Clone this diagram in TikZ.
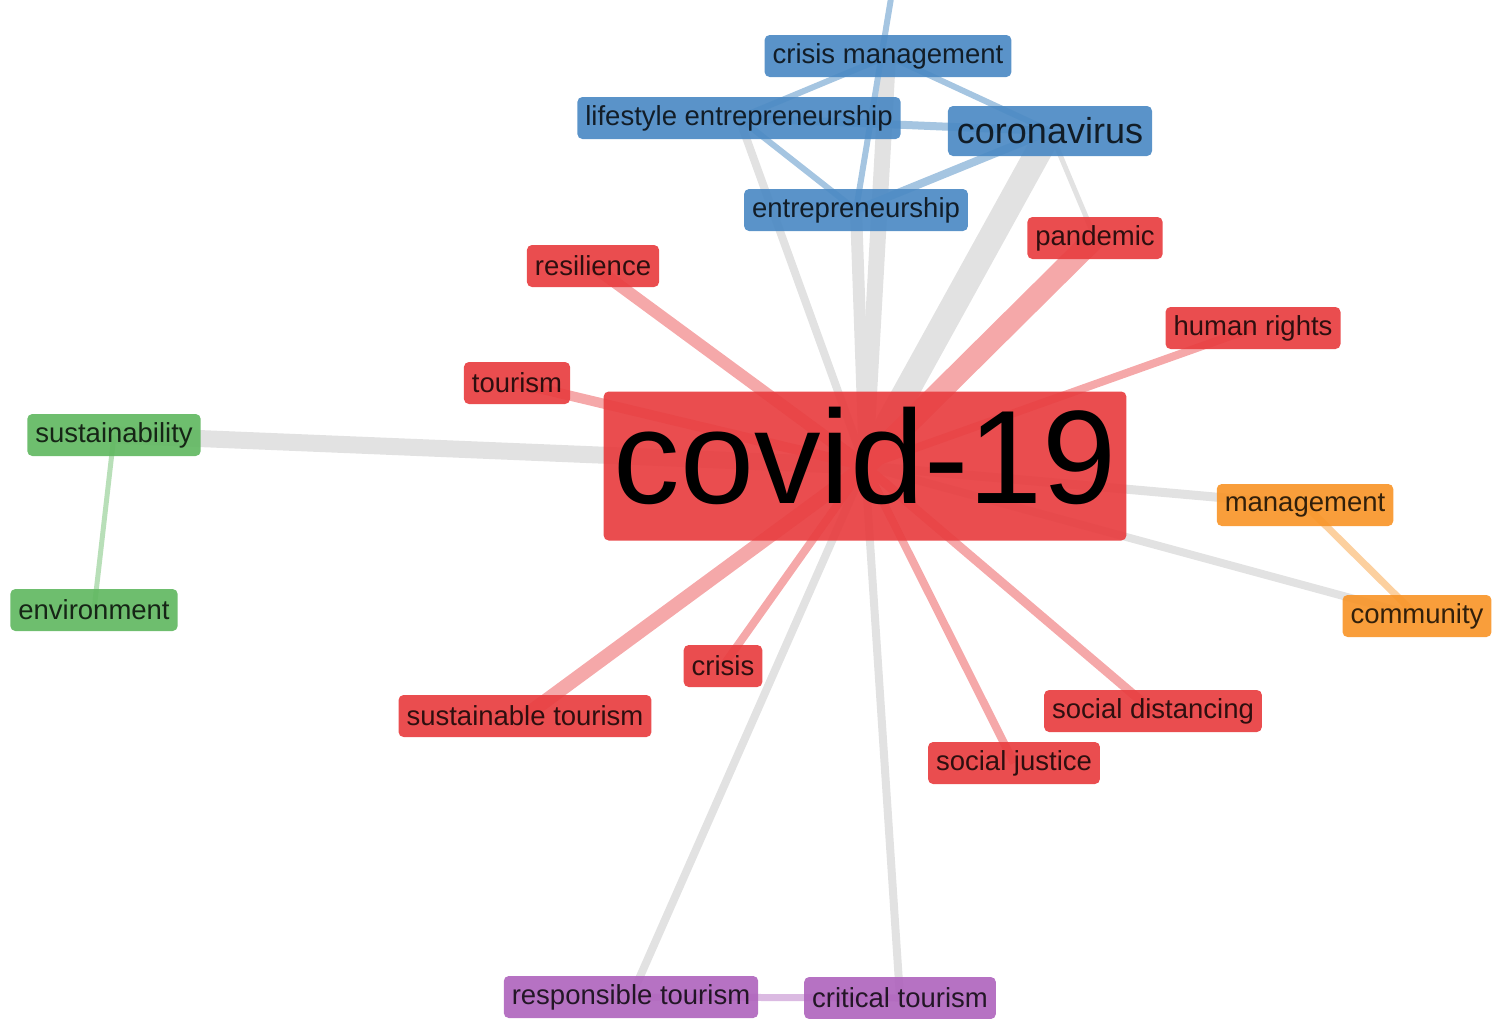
\documentclass[tikz,border=0pt]{standalone}
\usepackage{fontspec}
\setmainfont{Liberation Sans}
\definecolor{kwred}{RGB}{232,62,64}
\definecolor{kwblue}{RGB}{76,138,196}
\definecolor{kwgreen}{RGB}{98,184,98}
\definecolor{kworange}{RGB}{248,150,42}
\definecolor{kwpurple}{RGB}{176,102,190}
\definecolor{kwgray}{RGB}{226,226,226}
\usetikzlibrary{backgrounds}

\begin{document}
\begin{tikzpicture}[x=1pt, y=-1pt,
  term/.style={rectangle, rounded corners=5pt, fill opacity=0.92,
               text=black, text opacity=0.8, inner xsep=8pt,
               minimum height=42pt, font=\fontsize{27.5}{28}\selectfont},
  graylink/.style={draw=kwgray},
  redlink/.style={draw=kwred!45},
  bluelink/.style={draw=kwblue!50},
  greenlink/.style={draw=kwgreen!45},
  orangelink/.style={draw=kworange!45},
  purplelink/.style={draw=kwpurple!45}
]
\useasboundingbox (0,0) rectangle (1493,1018);

% blue cluster
\node[term, fill=kwblue] (crisismgmt) at (888,56) {crisis management};
\node[term, fill=kwblue] (lifestyle) at (739,118) {lifestyle entrepreneurship};
\node[term, fill=kwblue, minimum height=50pt, inner xsep=9pt,
      font=\fontsize{36}{36}\selectfont] (coronavirus) at (1050,131) {coronavirus};
\node[term, fill=kwblue] (entrepreneurship) at (856,210) {entrepreneurship};
\coordinate (offtop) at (894,-20);

% red cluster
\node[term, fill=kwred] (pandemic) at (1095,238) {pandemic};
\node[term, fill=kwred] (resilience) at (593,266) {resilience};
\node[term, fill=kwred] (humanrights) at (1253,328) {human rights};
\node[term, fill=kwred] (tourism) at (517,383) {tourism};
\node[term, fill=kwred, minimum height=149pt, inner xsep=10pt,
      text opacity=1, text depth=22pt,
      font=\fontsize{133}{133}\selectfont] (covid) at (865,466) {covid-19};
\node[term, fill=kwred] (crisis) at (723,666) {crisis};
\node[term, fill=kwred] (susttourism) at (525,716) {sustainable tourism};
\node[term, fill=kwred] (socdist) at (1153,711) {social distancing};
\node[term, fill=kwred] (socjustice) at (1014,763) {social justice};

% green, orange, purple
\node[term, fill=kwgreen] (sustainability) at (114,435) {sustainability};
\node[term, fill=kwgreen] (environment) at (94,610) {environment};
\node[term, fill=kworange] (management) at (1305,505) {management};
\node[term, fill=kworange] (community) at (1417,616) {community};
\node[term, fill=kwpurple] (resptourism) at (631,997) {responsible tourism};
\node[term, fill=kwpurple] (crittourism) at (900,998) {critical tourism};

\begin{pgfonlayer}{background}
% links between clusters
\draw[graylink, line width=26pt] (coronavirus.center) -- (covid.center);
\draw[graylink, line width=16pt] (crisismgmt.center) -- (covid.center);
\draw[graylink, line width=12pt] (entrepreneurship.center) -- (covid.center);
\draw[graylink, line width=8pt] (lifestyle.center) -- (covid.center);
\draw[graylink, line width=5pt] (coronavirus.center) -- (pandemic.center);
\draw[graylink, line width=17pt] (sustainability.center) -- (covid.center);
\draw[graylink, line width=9pt] (covid.center) -- (management.center);
\draw[graylink, line width=8pt] (covid.center) -- (community.center);
\draw[graylink, line width=8pt] (covid.center) -- (resptourism.center);
\draw[graylink, line width=8pt] (covid.center) -- (crittourism.center);

% links inside clusters
\draw[bluelink, line width=6pt] (offtop) -- (entrepreneurship.center);
\draw[bluelink, line width=6pt] (crisismgmt.center) -- (lifestyle.center);
\draw[bluelink, line width=6pt] (crisismgmt.center) -- (coronavirus.center);
\draw[bluelink, line width=8pt] (lifestyle.center) -- (coronavirus.center);
\draw[bluelink, line width=6pt] (lifestyle.center) -- (entrepreneurship.center);
\draw[bluelink, line width=8pt] (coronavirus.center) -- (entrepreneurship.center);

\draw[redlink, line width=22pt] (covid.center) -- (pandemic.center);
\draw[redlink, line width=12pt] (covid.center) -- (resilience.center);
\draw[redlink, line width=8pt] (covid.center) -- (humanrights.center);
\draw[redlink, line width=10pt] (covid.center) -- (tourism.center);
\draw[redlink, line width=14pt] (covid.center) -- (susttourism.center);
\draw[redlink, line width=8pt] (covid.center) -- (crisis.center);
\draw[redlink, line width=8pt] (covid.center) -- (socjustice.center);
\draw[redlink, line width=9pt] (covid.center) -- (socdist.center);

\draw[greenlink, line width=5pt] (sustainability.center) -- (environment.center);
\draw[orangelink, line width=7pt] (management.center) -- (community.center);
\draw[purplelink, line width=7pt] (resptourism.center) -- (crittourism.center);
\end{pgfonlayer}
\end{tikzpicture}
\end{document}
